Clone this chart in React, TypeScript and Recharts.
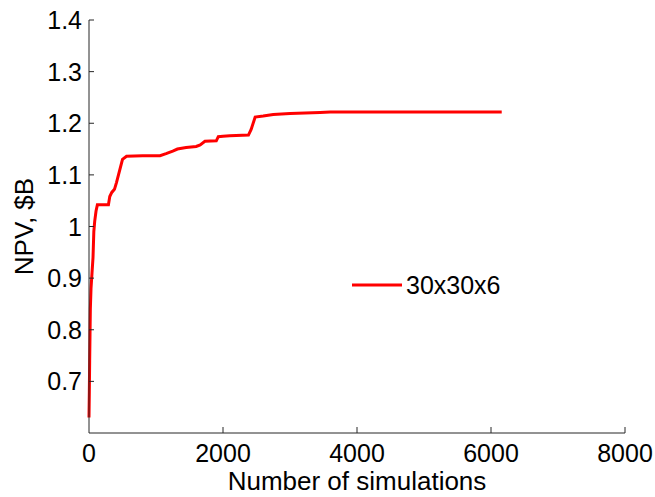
import React from 'react';
import { LineChart, Line, XAxis, YAxis, Legend } from 'recharts';

// number of simulations vs best NPV found so far
const simulations = [
  0, 5, 10, 15, 20, 30, 45, 60, 72, 85, 105, 125, 290, 310, 340, 380, 410, 440, 470, 500,
  560, 800, 1060, 1150, 1250, 1320, 1450, 1600, 1660, 1730, 1900, 1930, 2000, 2100, 2380,
  2420, 2480, 2600, 2750, 3000, 3450, 3600, 6160,
];
const npv = [
  0.63, 0.68, 0.74, 0.79, 0.84, 0.88, 0.91, 0.94, 0.99, 1.01, 1.03, 1.042, 1.042, 1.058,
  1.066, 1.072, 1.085, 1.1, 1.115, 1.13, 1.136, 1.137, 1.137, 1.141, 1.146, 1.15, 1.153,
  1.155, 1.158, 1.165, 1.166, 1.174, 1.175, 1.176, 1.177, 1.188, 1.212, 1.214, 1.217,
  1.219, 1.221, 1.222, 1.222,
];
const seriesName = '30x30x6';
const xTicks = [0, 2000, 4000, 6000, 8000];
const yTicks = [0.7, 0.8, 0.9, 1.0, 1.1, 1.2, 1.3, 1.4];

const data = simulations.map((s, i) => ({ sims: s, npv: npv[i] }));

const FONT = '"Liberation Sans", Arial, sans-serif';
const AXIS = '#262626';

const XTick = (props: any) => {
  const { x, y, payload } = props;
  return (
    <g>
      {payload.value !== 0 && <line x1={x} x2={x} y1={y} y2={y - 6} stroke={AXIS} strokeWidth={1} />}
      <text x={x} y={y + 29} textAnchor="middle" fontSize={25} fontFamily={FONT} fill="#000">
        {payload.value}
      </text>
    </g>
  );
};

const YTick = (props: any) => {
  const { x, y, payload } = props;
  return (
    <g>
      <line x1={x + 7} x2={x + 12} y1={y} y2={y} stroke={AXIS} strokeWidth={1} />
      <text x={x} y={y + 9} textAnchor="end" fontSize={25} fontFamily={FONT} fill="#000">
        {String(payload.value)}
      </text>
    </g>
  );
};

const YLabel = (props: any) => {
  const { viewBox } = props;
  const cy = viewBox.y + viewBox.height / 2;
  return (
    <text
      transform={`translate(33, ${cy}) rotate(-90)`}
      textAnchor="middle"
      fontSize={26}
      fontFamily={FONT}
      fill="#000"
    >
      NPV, $B
    </text>
  );
};

const LegendBox = () => (
  <div style={{ display: 'flex', alignItems: 'center', fontFamily: FONT, fontSize: 25, color: '#000' }}>
    <svg width={55} height={10}>
      <line x1={1} x2={51} y1={5} y2={5} stroke="#ff0000" strokeWidth={3} />
    </svg>
    <span style={{ lineHeight: '30px' }}>{seriesName}</span>
  </div>
);

export default function App() {
  return (
    <div style={{ position: 'absolute', left: 0, top: 0, width: 655, height: 497, background: '#fff' }}>
      <LineChart width={655} height={497} data={data} margin={{ top: 20, right: 30, bottom: 0, left: 0 }}>
        <XAxis
          dataKey="sims"
          type="number"
          domain={[0, 8000]}
          ticks={xTicks}
          height={64}
          tickSize={0}
          tickMargin={0}
          tick={<XTick />}
          stroke={AXIS}
          label={{
            value: 'Number of simulations',
            position: 'insideBottom',
            offset: 7,
            fontSize: 26,
            fontFamily: FONT,
            fill: '#000',
          }}
        />
        <YAxis
          type="number"
          domain={[0.6, 1.4]}
          ticks={yTicks}
          width={89}
          tickSize={0}
          tickMargin={7}
          tick={<YTick />}
          stroke={AXIS}
          label={<YLabel />}
        />
        <Legend
          layout="horizontal"
          verticalAlign="middle"
          align="center"
          content={<LegendBox />}
          wrapperStyle={{ position: 'absolute', left: 351, top: 270, width: 'auto' }}
        />
        <Line
          type="linear"
          dataKey="npv"
          name={seriesName}
          stroke="#ff0000"
          strokeWidth={3}
          dot={false}
          isAnimationActive={false}
        />
      </LineChart>
    </div>
  );
}
